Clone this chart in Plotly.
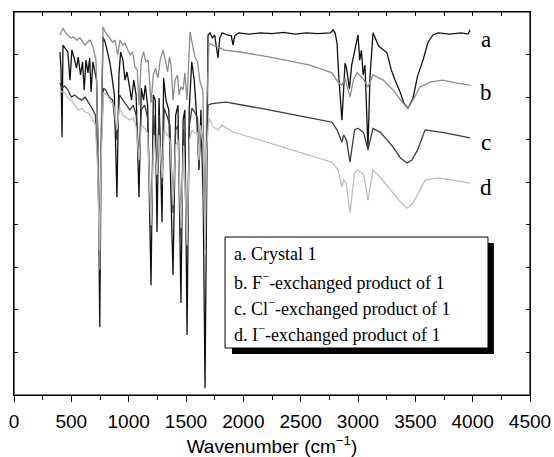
import plotly.graph_objects as go

# ---- data: (wavenumber cm-1, transmittance in arbitrary offset units) ----
curve_a = [(401,8.06),(410,7.64),(419,6.06),(427,8.22),(445,8.15),(470,8.06),(488,7.40),(505,8.11),(525,7.92),
(545,7.68),(560,7.94),(580,7.52),(598,7.83),(612,7.17),(628,7.87),(645,7.57),(660,7.92),(672,7.12),(688,7.83),
(705,7.59),(720,7.40),(733,5.76),(748,1.60),(760,5.76),(776,8.41),(795,8.29),(815,8.04),(835,7.83),(855,7.47),
(875,7.05),(898,4.65),(915,7.52),(930,8.06),(950,7.87),(968,7.40),(985,7.59),(1005,7.28),(1025,6.93),(1045,7.40),
(1065,7.05),(1090,4.65),(1110,7.21),(1130,6.93),(1145,7.28),(1165,6.81),(1195,2.58),(1215,7.05),(1232,6.93),
(1247,3.83),(1265,6.98),(1291,4.06),(1305,7.45),(1325,6.93),(1350,6.70),(1387,2.82),(1410,6.58),(1430,6.81),
(1456,2.16),(1475,6.46),(1490,6.70),(1509,1.41),(1528,6.70),(1550,7.83),(1572,7.40),(1595,6.46),(1613,5.29),
(1630,6.70),(1650,4.58),(1666,0.16),(1680,5.76),(1692,8.46),(1710,8.51),(1730,8.39),(1750,8.46),(1779,7.92),
(1795,8.39),(1815,8.51),(1860,8.46),(1895,8.44),(1910,8.22),(1925,8.44),(1960,8.51),(2050,8.48),(2150,8.51),
(2250,8.49),(2350,8.52),(2450,8.48),(2550,8.51),(2650,8.49),(2760,8.51),(2782,8.58),(2800,8.51),(2817,8.27),
(2834,7.40),(2860,6.46),(2875,7.20),(2887,7.80),(2900,7.68),(2925,7.20),(2945,7.75),(2965,8.04),(3000,8.46),
(3015,7.87),(3030,8.10),(3045,7.52),(3061,7.75),(3087,5.80),(3105,7.50),(3131,8.51),(3180,8.20),(3253,8.04),
(3290,7.64),(3323,7.40),(3360,7.17),(3400,6.86),(3436,6.74),(3480,6.98),(3520,7.50),(3567,7.87),(3610,8.29),
(3654,8.46),(3700,8.51),(3800,8.48),(3900,8.51),(3960,8.48),(3977,8.58)]

curve_b = [(401,8.46),(427,8.62),(450,8.51),(471,8.46),(495,8.39),(520,8.41),(545,8.34),(576,8.39),(600,8.29),
(620,8.22),(640,8.29),(663,8.34),(689,8.18),(715,7.87),(735,5.76),(748,2.94),(762,6.46),(776,8.65),(800,8.51),
(837,8.39),(860,8.29),(881,8.34),(905,7.99),(924,8.34),(950,8.22),(968,8.27),(990,8.11),(1012,7.99),(1035,8.06),
(1055,7.71),(1075,7.64),(1090,6.81),(1110,7.87),(1130,8.06),(1150,7.83),(1170,7.87),(1195,6.86),(1215,7.52),
(1235,7.68),(1255,7.45),(1275,7.87),(1300,8.11),(1320,7.87),(1340,7.59),(1355,7.94),(1370,7.75),(1387,6.93),
(1405,7.40),(1425,7.52),(1440,7.05),(1456,7.24),(1475,7.17),(1490,7.57),(1509,6.93),(1535,8.53),(1560,8.22),
(1578,7.94),(1600,7.83),(1620,7.40),(1648,7.12),(1666,3.64),(1680,6.70),(1700,8.27),(1730,8.22),(1779,8.18),
(1830,8.11),(1971,8.06),(2233,7.94),(2581,7.75),(2773,7.57),(2826,7.35),(2860,7.28),(2887,7.45),(2930,7.00),
(2960,7.40),(2991,7.57),(3040,7.45),(3087,7.24),(3131,7.52),(3220,7.40),(3305,7.17),(3392,6.86),(3436,6.74),
(3490,6.98),(3541,7.24),(3628,7.35),(3740,7.40),(3860,7.33),(3977,7.28)]

curve_c = [(401,7.33),(420,7.21),(440,7.26),(470,7.17),(500,7.00),(530,7.05),(560,6.98),(590,6.93),(620,7.00),
(650,6.88),(680,6.74),(710,6.58),(730,5.52),(745,3.64),(760,5.76),(780,7.21),(800,7.17),(830,7.00),(860,6.93),
(898,5.99),(920,7.05),(950,6.93),(980,6.81),(1010,6.70),(1040,6.81),(1065,6.58),(1090,5.59),(1110,6.70),
(1140,6.81),(1165,6.51),(1195,3.81),(1220,6.58),(1247,4.98),(1265,6.58),(1291,4.93),(1310,6.74),(1340,6.51),
(1360,6.34),(1387,4.28),(1410,6.23),(1430,6.34),(1456,3.71),(1480,6.23),(1509,3.29),(1530,6.34),(1552,6.74),
(1575,6.65),(1600,6.51),(1613,5.36),(1630,6.34),(1650,5.76),(1666,3.41),(1680,5.76),(1692,6.81),(1720,6.84),
(1760,6.86),(1850,6.88),(2145,6.74),(2581,6.51),(2773,6.41),(2817,6.23),(2860,5.94),(2875,6.11),(2900,5.99),
(2930,5.47),(2970,6.23),(3000,6.27),(3050,6.16),(3087,5.76),(3131,6.27),(3200,6.16),(3305,5.83),(3370,5.57),
(3428,5.45),(3470,5.52),(3520,5.76),(3585,6.23),(3660,6.20),(3760,6.16),(3977,6.04)]

curve_d = [(401,7.17),(420,7.12),(445,7.10),(470,6.98),(500,6.93),(530,6.81),(560,6.70),(590,6.74),(620,6.65),
(650,6.62),(680,6.51),(710,6.34),(730,5.29),(745,3.41),(760,5.52),(780,7.10),(810,7.05),(840,6.93),(870,6.81),
(898,6.23),(920,6.74),(950,6.58),(980,6.53),(1010,6.46),(1040,6.51),(1065,6.30),(1090,5.52),(1110,6.34),
(1140,6.27),(1165,6.16),(1195,3.99),(1220,6.11),(1247,5.17),(1265,6.11),(1291,5.10),(1310,6.23),(1340,6.11),
(1360,5.99),(1387,4.46),(1410,5.87),(1430,5.99),(1456,3.92),(1480,5.87),(1509,3.52),(1530,5.99),(1552,6.23),
(1575,6.16),(1600,6.16),(1613,5.52),(1625,6.34),(1650,5.87),(1666,3.29),(1680,5.76),(1700,6.51),(1735,6.30),
(1779,6.23),(1814,6.34),(1910,6.18),(2145,5.99),(2581,5.64),(2773,5.47),(2826,5.29),(2860,4.89),(2875,5.05),
(2895,5.00),(2930,4.28),(2970,5.22),(3000,5.29),(3050,5.17),(3087,4.58),(3131,5.29),(3200,5.10),(3305,4.75),
(3380,4.51),(3428,4.39),(3480,4.51),(3541,4.82),(3585,5.05),(3700,5.10),(3820,5.05),(3977,4.98)]

curve_labels = ["a", "b", "c", "d"]
legend_texts = ["a. Crystal 1",
                "b. F<sup>\u2212</sup>-exchanged product of 1",
                "c. Cl<sup>\u2212</sup>-exchanged product of 1",
                "d. I<sup>\u2212</sup>-exchanged product of 1"]
x_ticks = [0, 500, 1000, 1500, 2000, 2500, 3000, 3500, 4000, 4500]

# ---- styles ----
colors = ["#111111", "#8c8c8c", "#3c3c3c", "#bdbdbd"]
curves = [curve_a, curve_b, curve_c, curve_d]
label_y = [0.927, 0.789, 0.658, 0.543]
legend_y = [0.368, 0.296, 0.228, 0.160]

fig = go.Figure()
for crv, col in zip(curves, colors):
    xs = [p[0] for p in crv]
    ys = [p[1] for p in crv]
    fig.add_trace(go.Scatter(x=xs, y=ys, mode="lines",
                             line=dict(color=col, width=1.3), showlegend=False,
                             hoverinfo="skip"))
# invisible helper traces so the mirror axes (top/right) get drawn
fig.add_trace(go.Scatter(x=[curve_a[0][0]], y=[curve_a[0][1]], xaxis="x2", yaxis="y2", mode="markers",
                         marker=dict(opacity=0), showlegend=False, hoverinfo="skip"))

sans = "Liberation Sans, Arial, sans-serif"
serif = "Liberation Serif, Times New Roman, serif"

fig.update_layout(
    width=554, height=457,
    margin=dict(l=14, r=24, t=12, b=62, autoexpand=False),
    paper_bgcolor="white", plot_bgcolor="white",
    xaxis=dict(range=[0, 4500], tickvals=x_ticks, ticktext=[str(v) for v in x_ticks],
               ticks="outside", ticklen=6, tickwidth=1, tickcolor="black",
               minor=dict(dtick=250, ticks="outside", ticklen=4, tickcolor="black"),
               showline=True, linecolor="black", linewidth=1.2, showgrid=False, zeroline=False,
               automargin=False, ticklabelstandoff=3,
               tickfont=dict(family=sans, size=19, color="black"),
               title=dict(text="Wavenumber (cm<sup>\u22121</sup>)", standoff=10,
                          font=dict(family=sans, size=19, color="black"))),
    xaxis2=dict(range=[0, 4500], overlaying="x", side="top", anchor="y2", dtick=250, tick0=0,
                ticks="inside", ticklen=4, tickcolor="black", showticklabels=False, automargin=False,
                showline=True, linecolor="black", linewidth=1.2, showgrid=False, zeroline=False),
    yaxis=dict(range=[0, 9], dtick=1, tick0=0, ticks="inside", ticklen=4, tickcolor="black",
               showticklabels=False, showline=True, linecolor="black", linewidth=1.2, automargin=False,
               showgrid=False, zeroline=False),
    yaxis2=dict(range=[0, 9], overlaying="y", side="right", anchor="x2", dtick=1, tick0=0,
                ticks="inside", ticklen=4, tickcolor="black", showticklabels=False, automargin=False,
                showline=True, linecolor="black", linewidth=1.2, showgrid=False, zeroline=False),
)

# plot frame (safety)
fig.add_shape(type="rect", xref="paper", yref="paper", x0=0, x1=1, y0=0, y1=1,
              line=dict(color="black", width=1.2), layer="above")
# legend box (shadow + framed box)
fig.add_shape(type="rect", xref="paper", yref="paper", x0=0.4225, x1=0.930, y0=0.107, y1=0.397,
              fillcolor="black", line=dict(width=0), layer="above")
fig.add_shape(type="rect", xref="paper", yref="paper", x0=0.409, x1=0.9186, y0=0.1227, y1=0.4125,
              fillcolor="white", line=dict(color="black", width=1), layer="above")
for txt, yy in zip(legend_texts, legend_y):
    fig.add_annotation(xref="paper", yref="paper", x=0.4225, y=yy, text=txt, showarrow=False,
                       xanchor="left", yanchor="middle",
                       font=dict(family=serif, size=18, color="black"))
for lab, yy in zip(curve_labels, label_y):
    fig.add_annotation(xref="paper", yref="paper", x=0.915, y=yy, text=lab, showarrow=False,
                       xanchor="center", yanchor="middle",
                       font=dict(family=serif, size=23, color="black"))

fig.write_html("out.html")
